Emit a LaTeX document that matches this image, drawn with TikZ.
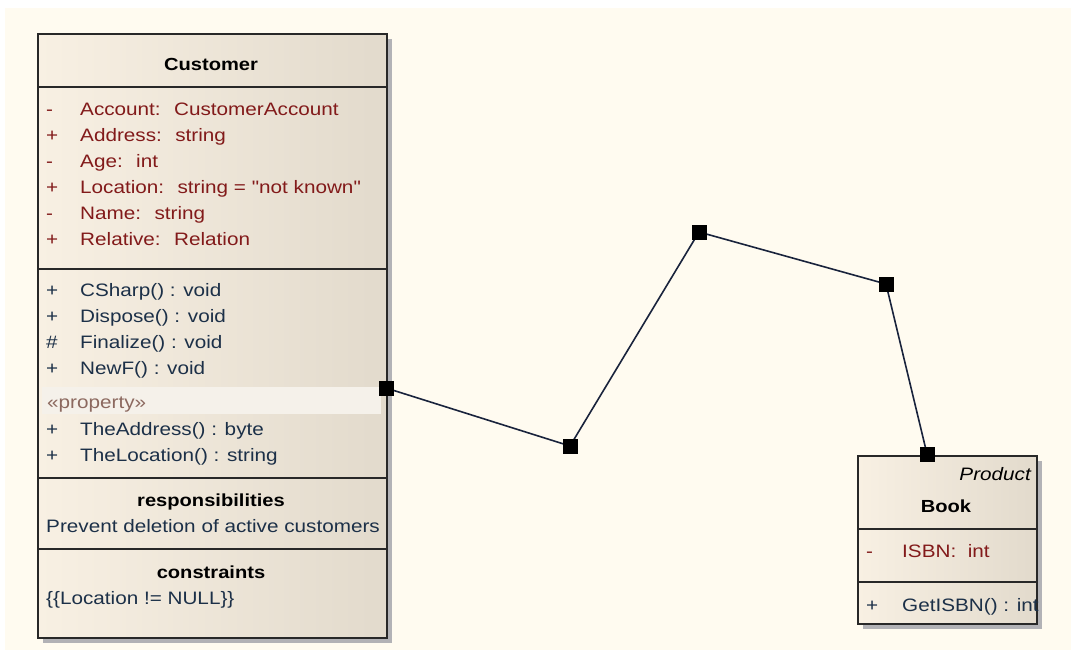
\documentclass[tikz,border=0pt]{standalone}
\usepackage{fontspec}
\setmainfont{Liberation Sans}[FakeStretch=1.15, Ligatures=TeXOff]
\usetikzlibrary{shadows}
\definecolor{cream}{RGB}{255,251,240}
\definecolor{boxleft}{RGB}{248,240,227}
\definecolor{boxright}{RGB}{226,218,204}
\definecolor{border}{RGB}{40,40,40}
\definecolor{attrred}{RGB}{130,26,26}
\definecolor{methblue}{RGB}{28,48,72}
\definecolor{stereo}{RGB}{140,105,95}
\definecolor{shadowgray}{RGB}{178,178,182}
\definecolor{wire}{RGB}{25,35,60}
\definecolor{band}{RGB}{245,241,234}
\begin{document}
\begin{tikzpicture}[x=1pt,y=-1pt,
  classbox/.style={draw=border, line width=2.2pt, left color=boxleft, right color=boxright,
    inner sep=0pt, anchor=north west,
    drop shadow={shadow xshift=5pt, shadow yshift=-5pt, fill=shadowgray, opacity=1}},
  divider/.style={draw=border, line width=1.4pt},
  txt/.style={anchor=base west, inner sep=0pt, font=\fontsize{18}{22}\selectfont},
  ttl/.style={anchor=base, inner sep=0pt, font=\fontsize{17.5}{22}\selectfont\bfseries, text=black},
  attr/.style={txt, text=attrred},
  meth/.style={txt, text=methblue},
  handle/.style={fill=black, draw=none, minimum size=15pt, inner sep=0pt},
  wireline/.style={draw=wire, line width=1.6pt}
]
\useasboundingbox (0,0) rectangle (1071,653);
\fill[white] (0,0) rectangle (1071,653);
\fill[cream] (5,8) rectangle (1071,650);

% Customer class
\node[classbox, minimum width=349pt, minimum height=604pt] (cust) at (37,33) {};
\fill[band] (42,387) rectangle (381,414);
\draw[divider] (37,87) -- (386,87);
\draw[divider] (37,269) -- (386,269);
\draw[divider] (37,478) -- (386,478);
\draw[divider] (37,549) -- (386,549);

\node[ttl] (custname) at (211,70) {Customer};

\node[attr] (v1) at (46,115) {-};  \node[attr] (a1) at (80,115) {Account:~ CustomerAccount};
\node[attr] (v2) at (46,141) {+};  \node[attr] (a2) at (80,141) {Address:~ string};
\node[attr] (v3) at (46,167) {-};  \node[attr] (a3) at (80,167) {Age:~ int};
\node[attr] (v4) at (46,193) {+};  \node[attr] (a4) at (80,193) {Location:~ string = "not known"};
\node[attr] (v5) at (46,219) {-};  \node[attr] (a5) at (80,219) {Name:~ string};
\node[attr] (v6) at (46,245) {+};  \node[attr] (a6) at (80,245) {Relative:~ Relation};

\node[meth] (w1) at (46,296) {+};   \node[meth] (m1) at (80,296) {CSharp() : void};
\node[meth] (w2) at (46,322) {+};   \node[meth] (m2) at (80,322) {Dispose() : void};
\node[meth] (w3) at (46,348) {\#};  \node[meth] (m3) at (80,348) {Finalize() : void};
\node[meth] (w4) at (46,374) {+};   \node[meth] (m4) at (80,374) {NewF() : void};
\node[txt, text=stereo] (st) at (47,408) {«property»};
\node[meth] (w5) at (46,435) {+};   \node[meth] (m5) at (80,435) {TheAddress() : byte};
\node[meth] (w6) at (46,461) {+};   \node[meth] (m6) at (80,461) {TheLocation() : string};

\node[ttl] (resp) at (211,506) {responsibilities};
\node[meth] (resptxt) at (46,532) {Prevent deletion of active customers};
\node[ttl] (cons) at (211,578) {constraints};
\node[meth] (constxt) at (46,604) {\{\{Location != NULL\}\}};

% Book class
\node[classbox, minimum width=179pt, minimum height=168pt] (book) at (857,455) {};
\draw[divider] (857,529) -- (1036,529);
\draw[divider] (857,582) -- (1036,582);
\node[anchor=base east, inner sep=0pt, font=\fontsize{18}{22}\selectfont\itshape, text=black] (prod) at (1031,480) {Product};
\node[ttl] (bookname) at (946,512) {Book};
\node[attr] (bv1) at (866,557) {-};  \node[attr] (ba1) at (902,557) {ISBN:~ int};
\node[meth] (bw1) at (866,611) {+};  \node[meth] (bm1) at (902,611) {GetISBN() : int};

% connector
\coordinate (p0) at (386,388);
\coordinate (p1) at (570,446);
\coordinate (p2) at (699,232);
\coordinate (p3) at (886,284);
\coordinate (p4) at (927,454);
\draw[wireline] (p0) -- (p1) -- (p2) -- (p3) -- (p4);
\node[handle] (h0) at (p0) {};
\node[handle] (h1) at (p1) {};
\node[handle] (h2) at (p2) {};
\node[handle] (h3) at (p3) {};
\node[handle] (h4) at (p4) {};
\end{tikzpicture}
\end{document}
